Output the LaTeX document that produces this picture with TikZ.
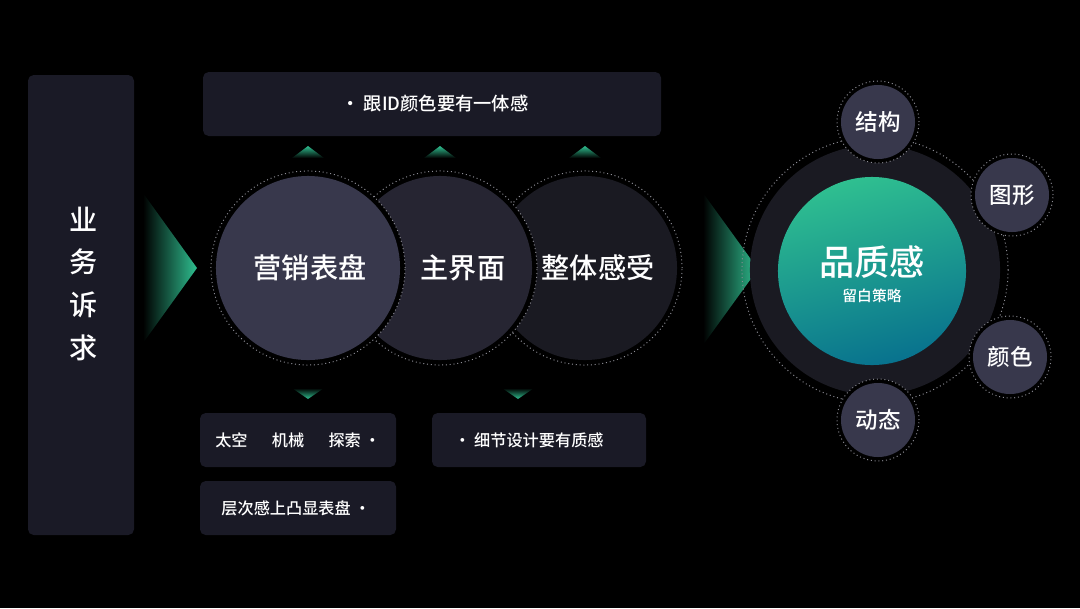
\documentclass[tikz,border=0pt]{standalone}
\usepackage{fontspec}
\IfFontExistsTF{Noto Sans CJK SC Medium}
	{\newfontfamily\cjk[BoldFont={Noto Sans CJK SC Medium}]{Noto Sans CJK SC}}
	{\newfontfamily\cjk{Noto Sans CJK SC}}
\definecolor{panel}{HTML}{1A1A26}
\definecolor{discA}{HTML}{38384C}
\definecolor{discB}{HTML}{262532}
\definecolor{discC}{HTML}{1A1A22}
\definecolor{hub}{HTML}{1A1A22}
\definecolor{ringgray}{HTML}{8C8C94}
\definecolor{teal}{HTML}{2FBF90}
\definecolor{tealdeep}{HTML}{08728E}
\begin{document}
\begin{tikzpicture}[x=0.025cm,y=-0.025cm,
	panelbox/.style={fill=panel,rounded corners=4pt},
	ringline/.style={draw=ringgray,dotted,line width=0.7pt},
	dial/.style={circle,inner sep=0pt,minimum size={#1*0.05cm}},
	bigword/.style={text=white,font=\cjk\bfseries\fontsize{20}{24}\selectfont},
	midword/.style={text=white,font=\cjk\bfseries\fontsize{16}{19}\selectfont},
	noteword/.style={text=white,font=\cjk\bfseries\fontsize{11.5}{14}\selectfont}]
\fill[black] (0,0) rectangle (1080,608);
\useasboundingbox (0,0) rectangle (1080,608);
% left column
\fill[panelbox] (28,75) rectangle (134,535);
\foreach \c [count=\i] in {业,务,诉,求}{
	\node[bigword] (need\i) at (84,{176+43*\i}) {\c};
}
\shade[left color=black,right color=teal] (143,193) -- (197,268) -- (143,343) -- cycle;
% top note
\fill[panelbox] (203,72) rectangle (661,136);
\node[noteword,font=\cjk\bfseries\fontsize{13}{16}\selectfont] (idnote) at (435,104) {· 跟ID颜色要有一体感};
\foreach \x in {308,440,585}{
	\shade[top color=teal,bottom color=black] (\x-16,158) -- (\x,146) -- (\x+16,158) -- cycle;
}
% three discs, back to front
\foreach \n/\x/\col/\dx/\word in {C/585/discC/13/整体感受,B/440/discB/23/主界面,A/308/discA/2/营销表盘}{
	\node[dial=97,fill=black,ringline] (rim\n) at (\x,268) {};
	\node[dial=92,fill=\col] (disc\n) at (\x,268) {};
	\node[bigword] (word\n) at (\x+\dx,268) {\word};
}
% bottom notes
\foreach \x in {308,518}{
	\shade[top color=black,bottom color=teal] (\x-16,388) -- (\x+16,388) -- (\x,399) -- cycle;
}
\fill[panelbox] (200,413) rectangle (396,467);
\fill[panelbox] (200,481) rectangle (396,535);
\fill[panelbox] (432,413) rectangle (646,467);
\node[noteword] (stylenote) at (298,440) {太空\hspace{1.5em}机械\hspace{1.5em}探索 ·};
\node[noteword] (layernote) at (296,508) {层次感上凸显表盘 ·};
\node[noteword] (detailnote) at (529,440) {· 细节设计要有质感};
% right hub
\shade[left color=black,right color=teal] (703,193) -- (758,269) -- (703,345) -- cycle;
\node[dial=133,ringline] (hubring) at (875,270) {};
\node[dial=125,fill=hub] (hubdisc) at (875,270) {};
\node[dial=94,top color=teal,bottom color=tealdeep,shading angle=15] (core) at (872,271) {};
\node[bigword,font=\cjk\bfseries\fontsize{25}{30}\selectfont] (quality) at (872,262) {品质感};
\node[noteword,font=\cjk\bfseries\fontsize{10.5}{13}\selectfont] (whitespace) at (872,296) {留白策略};
\foreach \n/\x/\y/\word in {struct/878/122/结构,figure/1012/195/图形,colour/1010/357/颜色,motion/878/420/动态}{
	\node[dial=41,fill=black,ringline] (rim\n) at (\x,\y) {};
	\node[dial=37,fill=discA] (sat\n) at (\x,\y) {};
	\node[midword] (word\n) at (\x,\y) {\word};
}
\end{tikzpicture}
\end{document}
